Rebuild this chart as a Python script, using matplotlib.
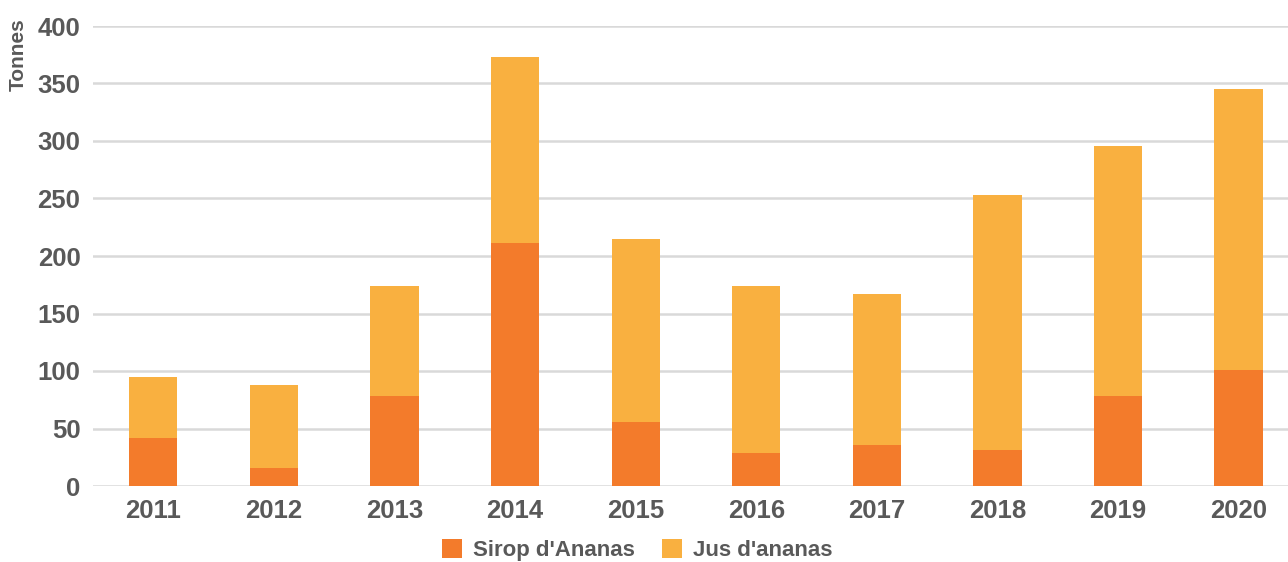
import matplotlib.pyplot as plt
import numpy as np

plt.rcParams['font.family'] = ['Liberation Sans', 'DejaVu Sans']
plt.rcParams['font.weight'] = 'bold'

# données (tonnes)
annees = ['2011', '2012', '2013', '2014', '2015', '2016', '2017', '2018', '2019', '2020']
sirop = [42, 16, 78, 211, 56, 29, 36, 31, 78, 101]
jus = [53, 72, 96, 162, 159, 145, 131, 222, 218, 244]

c_sirop = '#F37B2B'
c_jus = '#F9B040'
c_txt = '#595959'

def main():
    fig = plt.figure(figsize=(12.88, 5.62), dpi=100)
    ax = fig.add_axes([93/1288, 76/562, 1195/1288, 460/562])

    x = np.arange(len(annees))
    ax.bar(x, sirop, width=0.4, color=c_sirop, label="Sirop d'Ananas", zorder=3)
    ax.bar(x, jus, width=0.4, bottom=sirop, color=c_jus, label="Jus d'ananas", zorder=3)

    ax.set_ylim(0, 400)
    ax.set_xlim(-0.5, 9.41)
    ax.set_yticks(range(0, 401, 50))
    ax.set_xticks(x)
    ax.set_xticklabels(annees)
    ax.yaxis.grid(True, color='#D9D9D9', linewidth=1.8, zorder=0)
    ax.set_axisbelow(True)
    for s in ax.spines.values():
        s.set_visible(False)
    ax.tick_params(axis='both', length=0, labelsize=18.5, labelcolor=c_txt)
    ax.tick_params(axis='y', pad=9)
    ax.tick_params(axis='x', pad=9)

    fig.text(18/1288, 1 - 55/562, 'Tonnes', rotation=90, ha='center', va='center',
             fontsize=15, color=c_txt, fontweight='bold')

    leg = fig.legend(loc='center', bbox_to_anchor=(637/1288, 1 - 550/562), ncol=2,
                     frameon=False, fontsize=16, handlelength=0.9, handleheight=0.9,
                     handletextpad=0.5, columnspacing=1.2)
    for t in leg.get_texts():
        t.set_color(c_txt)

    plt.savefig('out.png', dpi=100)

if __name__ == '__main__':
    main()
